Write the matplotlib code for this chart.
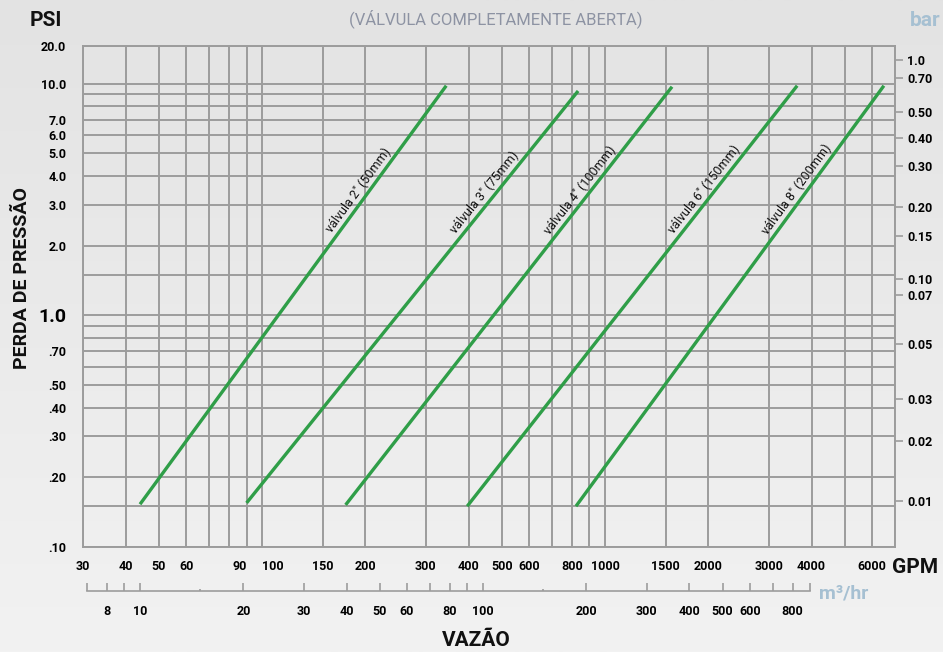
import numpy as np
import matplotlib.pyplot as plt
from matplotlib.colors import LinearSegmentedColormap
from matplotlib.ticker import NullLocator, FixedLocator, NullFormatter

plt.rcParams['font.family'] = ['Roboto', 'DejaVu Sans']

# valve curves: end points (GPM, PSI)
valves = ['válvula 2" (50mm)', 'válvula 3" (75mm)', 'válvula 4" (100mm)',
          'válvula 6" (150mm)', 'válvula 8" (200mm)']
gpm_low = [44, 90, 175, 396, 822]
gpm_high = [344, 834, 1567, 3631, 6500]
psi_low = [0.153, 0.155, 0.152, 0.15, 0.15]
psi_high = [9.8, 9.3, 9.7, 9.8, 9.8]
label_psi = [3.3, 3.2, 3.3, 3.3, 3.3]

# grid / tick values
gpm_grid = [30, 40, 50, 60, 70, 80, 90, 100, 150, 200, 300, 400, 500, 600, 700,
            800, 900, 1000, 1500, 2000, 3000, 4000, 5000, 6000, 7000]
gpm_labeled = [30, 40, 50, 60, 90, 100, 150, 200, 300, 400, 500, 600, 800,
               1000, 1500, 2000, 3000, 4000, 6000]
psi_grid = [0.1, 0.15, 0.2, 0.3, 0.4, 0.5, 0.6, 0.7, 0.8, 0.9, 1.0, 1.5,
            2, 3, 4, 5, 6, 7, 8, 9, 10]
psi_labels = {0.1: '.10', 0.2: '.20', 0.3: '.30', 0.4: '.40', 0.5: '.50',
              0.7: '.70', 1.0: '1.0', 2: '2.0', 3: '3.0', 4: '4.0', 5: '5.0',
              6: '6.0', 7: '7.0', 10: '10.0'}
psi_top, psi_top_label = 14.5, '20.0'

# right axis (bar) labels, at the PSI height where the chart prints them
bar_labels = ['1.0', '0.70', '0.50', '0.40', '0.30', '0.20', '0.15', '0.10',
              '0.07', '0.05', '0.03', '0.02', '0.01']
bar_at_psi = [12.6, 10.6, 7.56, 5.85, 4.43, 2.95, 2.19, 1.44, 1.22, 0.75,
              0.435, 0.287, 0.158]

# m3/hr scale
m3_ticks = [7, 8, 9, 10, 20, 30, 40, 50, 60, 70, 80, 90, 100, 200, 300, 400,
            500, 600, 700, 800, 900]
m3_labeled = [8, 10, 20, 30, 40, 50, 60, 80, 100, 200, 300, 400, 500, 600, 800]
GPM_PER_M3H = 4.403

grid_c = '#9c9c9c'
green = '#2f9e48'
blue_grey = '#a6c0d2'

fig = plt.figure(figsize=(9.43, 6.52), dpi=100)

bg = fig.add_axes([0, 0, 1, 1], zorder=-10)
bg.imshow(np.linspace(0, 1, 256)[:, None], aspect='auto', extent=[0, 1, 0, 1],
          cmap=LinearSegmentedColormap.from_list('bg', ['#e3e3e3', '#f2f2f2']))
bg.axis('off')

ax = fig.add_axes([0.088, 0.161, 0.861, 0.768])
ax.patch.set_alpha(0)
ax.set_xscale('log')
ax.set_yscale('log')
ax.set_xlim(30, 7000)
ax.set_ylim(0.1, psi_top)

ax.set_xticks(gpm_grid, [str(g) if g in gpm_labeled else '' for g in gpm_grid])
ax.set_yticks(psi_grid + [psi_top],
              [psi_labels.get(p, '') for p in psi_grid] + [psi_top_label])
ax.xaxis.set_minor_locator(NullLocator())
ax.yaxis.set_minor_locator(NullLocator())
ax.tick_params(length=0, labelsize=9)
ax.tick_params(axis='x', pad=9)
ax.tick_params(axis='y', pad=12)
for t in ax.get_xticklabels() + ax.get_yticklabels():
    t.set_fontweight('bold')
for t in ax.get_xticklabels():
    # the two crowded labels sit either side of their lines
    if t.get_text() == '90':
        t.set_ha('right')
    elif t.get_text() == '100':
        t.set_ha('left')
for t in ax.get_yticklabels():
    if t.get_text() == '1.0':
        t.set_fontsize(14)
ax.grid(True, color=grid_c, lw=1.4)
for s in ax.spines.values():
    s.set_color(grid_c)
    s.set_linewidth(1.4)

for lo_q, hi_q, lo_p, hi_p in zip(gpm_low, gpm_high, psi_low, psi_high):
    ax.plot([lo_q, hi_q], [lo_p, hi_p], color=green, lw=2.4, zorder=3,
            solid_capstyle='butt')

# labels along the lines
for name, lo_q, hi_q, lo_p, hi_p, lp in zip(valves, gpm_low, gpm_high,
                                             psi_low, psi_high, label_psi):
    t = (np.log10(lp) - np.log10(lo_p)) / (np.log10(hi_p) - np.log10(lo_p))
    q = 10 ** (np.log10(lo_q) + t * (np.log10(hi_q) - np.log10(lo_q)))
    p1 = ax.transData.transform((lo_q, lo_p))
    p2 = ax.transData.transform((hi_q, hi_p))
    ang = np.degrees(np.arctan2(p2[1] - p1[1], p2[0] - p1[0]))
    ax.annotate(name, (q, lp), xytext=(-5.3, 3.9), textcoords='offset points',
                rotation=ang, rotation_mode='anchor', ha='center', va='center',
                fontsize=9, color='#111111', zorder=4)

# right axis in bar
axr = ax.twinx()
axr.set_yscale('log')
axr.set_ylim(ax.get_ylim())
axr.set_yticks(bar_at_psi, bar_labels)
axr.yaxis.set_minor_locator(NullLocator())
axr.tick_params(axis='y', length=6, width=1.2, color=grid_c, pad=3, labelsize=9)
for t in axr.get_yticklabels():
    t.set_fontweight('bold')
for s in axr.spines.values():
    s.set_visible(False)

# secondary flow scale in m3/hr
sec = ax.secondary_xaxis(-0.088, functions=(lambda g: g / GPM_PER_M3H,
                                            lambda m: m * GPM_PER_M3H))
sec.set_xticks(m3_ticks, [str(m) if m in m3_labeled else '' for m in m3_ticks])
sec.xaxis.set_minor_locator(FixedLocator([15, 150]))
sec.xaxis.set_minor_formatter(NullFormatter())
sec.tick_params(axis='x', which='major', direction='in', length=6, width=1.2,
                color=grid_c, pad=10, labelsize=9)
sec.tick_params(axis='x', which='minor', direction='in', length=1.5, width=1.2,
                color=grid_c)
for t in sec.get_xticklabels():
    t.set_fontweight('bold')
sec.spines['bottom'].set_bounds(7, 900)
sec.spines['bottom'].set_color(grid_c)
sec.spines['bottom'].set_linewidth(1.2)

fig.text(0.049, 0.969, 'PSI', ha='center', va='center', fontsize=15,
         fontweight='bold', color='#111111')
fig.text(0.981, 0.969, 'bar', ha='center', va='center', fontsize=15,
         fontweight='bold', color=blue_grey)
fig.text(0.526, 0.972, '(VÁLVULA COMPLETAMENTE ABERTA)', ha='center',
         va='center', fontsize=12, color='#8d93a3')
fig.text(0.023, 0.574, 'PERDA DE PRESSÃO', ha='center', va='center',
         rotation=90, fontsize=14, fontweight='bold', color='#111111')
fig.text(0.505, 0.018, 'VAZÃO', ha='center', va='center', fontsize=15,
         fontweight='bold', color='#111111')
fig.text(0.970, 0.130, 'GPM', ha='center', va='center', fontsize=15,
         fontweight='bold', color='#111111')
fig.text(0.895, 0.090, 'm³/hr', ha='center', va='center', fontsize=14,
         fontweight='bold', color=blue_grey)

fig.savefig('out.png', dpi=100)
